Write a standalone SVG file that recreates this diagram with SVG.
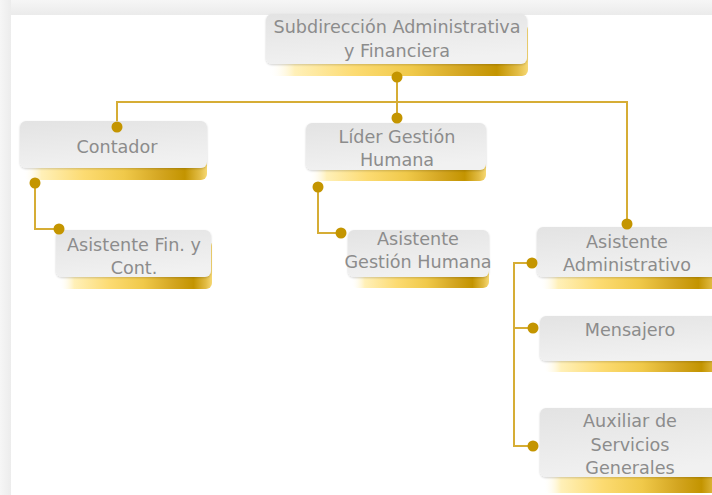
<svg xmlns="http://www.w3.org/2000/svg" width="712" height="495" viewBox="0 0 712 495">
<defs>
<linearGradient id="gold" x1="0" y1="0" x2="1" y2="0">
<stop offset="0" stop-color="#ffffff" stop-opacity="0"/>
<stop offset="0.1" stop-color="#fff0b8"/>
<stop offset="0.33" stop-color="#fcdb72"/>
<stop offset="0.55" stop-color="#f0c94a"/>
<stop offset="0.75" stop-color="#d3a520"/>
<stop offset="0.88" stop-color="#c39400"/>
<stop offset="0.96" stop-color="#e2bc45"/>
<stop offset="1" stop-color="#f6d874"/>
</linearGradient>
<linearGradient id="grey" x1="0" y1="0" x2="0.3" y2="1">
<stop offset="0" stop-color="#e3e3e3"/>
<stop offset="1" stop-color="#f1f1f1"/>
</linearGradient>
<linearGradient id="topband" x1="0" y1="0" x2="0" y2="1">
<stop offset="0" stop-color="#f6f6f6"/>
<stop offset="1" stop-color="#ebebeb"/>
</linearGradient>
<linearGradient id="leftband" x1="0" y1="0" x2="1" y2="0">
<stop offset="0" stop-color="#f6f6f6"/>
<stop offset="1" stop-color="#ececec"/>
</linearGradient>
<filter id="sh" x="-10%" y="-10%" width="120%" height="130%">
<feGaussianBlur in="SourceAlpha" stdDeviation="1.2"/>
<feOffset dx="0" dy="1" result="b"/>
<feComponentTransfer><feFuncA type="linear" slope="0.18"/></feComponentTransfer>
<feMerge><feMergeNode/><feMergeNode in="SourceGraphic"/></feMerge>
</filter>
</defs>
<style>
.gold{fill:url(#gold);}
.box{fill:url(#grey);filter:url(#sh);}
.t{font-family:"DejaVu Sans","Noto Sans",sans-serif;font-size:17.6px;fill:#8c8c8c;text-anchor:middle;}
.ln{fill:none;stroke:#d6ad35;stroke-width:2;}
.dot{fill:#c49500;}
</style>
<rect x="0" y="0" width="712" height="495" fill="#ffffff"/>
<rect x="0" y="0" width="712" height="15" fill="url(#topband)"/>
<rect x="0" y="0" width="11" height="495" fill="url(#leftband)"/>

<g id="connectors">
<path class="ln" d="M397 77 V118"/>
<path class="ln" d="M117 127 V102 H627 V224"/>
<path class="ln" d="M35 183 V229 H59"/>
<path class="ln" d="M318 187 V233 H341"/>
<path class="ln" d="M532 263 H514 V446 H533"/>
<path class="ln" d="M514 328 H533"/>
</g>

<g id="n-subdireccion">
<rect class="gold" x="269" y="24" width="259" height="52" rx="6"/>
<rect class="box" x="266" y="14" width="261" height="50" rx="6"/>
<text class="t" x="397" y="33">Subdirección Administrativa</text>
<text class="t" x="397" y="57">y Financiera</text>
<circle class="dot" cx="397" cy="77" r="5.5"/>
</g>

<g id="n-contador">
<rect class="gold" x="23" y="131" width="184" height="49" rx="6"/>
<rect class="box" x="20" y="121" width="187" height="47" rx="6"/>
<text class="t" x="117" y="153">Contador</text>
<circle class="dot" cx="117" cy="127" r="5.5"/>
<circle class="dot" cx="35" cy="183" r="5.5"/>
</g>

<g id="n-asistente-fin">
<rect class="gold" x="59" y="240" width="153" height="49" rx="6"/>
<rect class="box" x="56" y="230" width="155" height="47" rx="6"/>
<text class="t" x="134" y="251">Asistente Fin. y</text>
<text class="t" x="134" y="274">Cont.</text>
<circle class="dot" cx="59" cy="229" r="5.5"/>
</g>

<g id="n-lider">
<rect class="gold" x="309" y="133" width="177" height="48" rx="6"/>
<rect class="box" x="306" y="123" width="180" height="47" rx="6"/>
<text class="t" x="397" y="143">Líder Gestión</text>
<text class="t" x="397" y="166">Humana</text>
<circle class="dot" cx="397" cy="118" r="5.5"/>
<circle class="dot" cx="318" cy="187" r="5.5"/>
</g>

<g id="n-asistente-gh">
<rect class="gold" x="351" y="240" width="138" height="48" rx="6"/>
<rect class="box" x="348" y="230" width="141" height="47" rx="6"/>
<text class="t" x="418" y="245">Asistente</text>
<text class="t" x="418" y="268">Gestión Humana</text>
<circle class="dot" cx="341" cy="233" r="5.5"/>
</g>

<g id="n-asistente-adm">
<rect class="gold" x="540" y="237" width="180" height="52" rx="6"/>
<rect class="box" x="537" y="227" width="185" height="50" rx="6"/>
<text class="t" x="627" y="248">Asistente</text>
<text class="t" x="627" y="271">Administrativo</text>
<circle class="dot" cx="627" cy="224" r="5.5"/>
<circle class="dot" cx="532" cy="263" r="5.5"/>
</g>

<g id="n-mensajero">
<rect class="gold" x="543" y="326" width="180" height="46" rx="6"/>
<rect class="box" x="540" y="316" width="185" height="45" rx="6"/>
<text class="t" x="630" y="336">Mensajero</text>
<circle class="dot" cx="533" cy="328" r="5.5"/>
</g>

<g id="n-auxiliar">
<rect class="gold" x="543" y="418" width="180" height="75" rx="6"/>
<rect class="box" x="540" y="408" width="185" height="69" rx="6"/>
<text class="t" x="630" y="427">Auxiliar de</text>
<text class="t" x="630" y="451">Servicios</text>
<text class="t" x="630" y="474">Generales</text>
<circle class="dot" cx="533" cy="446" r="5.5"/>
</g>
</svg>
